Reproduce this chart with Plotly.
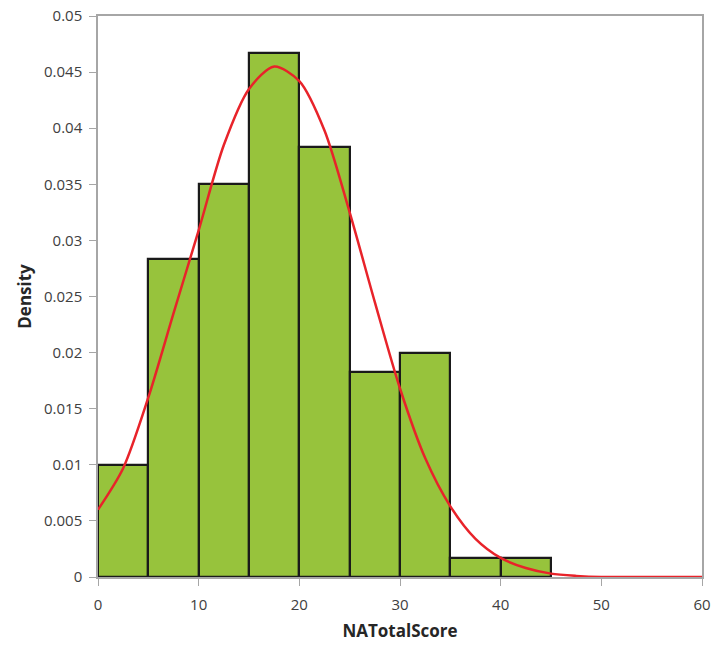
import plotly.graph_objects as go

# Histogram bins (NATotalScore) and their densities
bin_left = [0, 5, 10, 15, 20, 25, 30, 35, 40]
bin_width = 5
density = [0.0100, 0.0283, 0.0350, 0.0467, 0.0383, 0.0183, 0.0200, 0.00167, 0.00167]

# Fitted density curve
curve_x = [0, 2.5, 5, 7.5, 10, 12.5, 15, 17.5, 20, 22.5, 25, 27.5, 30, 32.5,
           35, 37.5, 40, 42.5, 45, 47.5, 50, 55, 60]
curve_y = [0.0060, 0.0097, 0.0160, 0.0235, 0.0309, 0.0385, 0.0435, 0.0455, 0.0442,
           0.0398, 0.0325, 0.0245, 0.0168, 0.0106, 0.0063, 0.0034, 0.0017, 0.0008,
           0.0003, 0.0001, 0.0, 0.0, 0.0]

x_ticks = [0, 10, 20, 30, 40, 50, 60]
y_ticks = [0, 0.005, 0.01, 0.015, 0.02, 0.025, 0.03, 0.035, 0.04, 0.045, 0.05]
y_labels = ["0", "0.005", "0.01", "0.015", "0.02", "0.025", "0.03", "0.035", "0.04", "0.045", "0.05"]

fig = go.Figure()
fig.add_trace(go.Bar(
    x=[b + bin_width / 2 for b in bin_left],
    y=density,
    width=[bin_width] * len(bin_left),
    marker=dict(color="#97C33C", line=dict(color="#1a1a1a", width=2.2)),
    showlegend=False,
    hoverinfo="x+y",
))
fig.add_trace(go.Scatter(
    x=curve_x, y=curve_y, mode="lines",
    line=dict(color="#E8232A", width=2.5, shape="spline", smoothing=0.8),
    showlegend=False,
))

tick_font = dict(family="Open Sans, Liberation Sans, sans-serif", size=15, color="#404040")
title_font = dict(family="Open Sans, sans-serif", size=17, color="#262626")
fig.update_layout(
    width=713, height=648,
    margin=dict(l=98, r=11, t=16, b=71),
    paper_bgcolor="white", plot_bgcolor="white",
    bargap=0,
    font=tick_font,
)
fig.update_xaxes(
    range=[0, 60], tickvals=x_ticks, ticktext=[str(v) for v in x_ticks],
    showgrid=False, zeroline=False, automargin=False,
    showline=True, linecolor="#A6A6A6", linewidth=1.5, mirror=True,
    ticks="outside", ticklen=7, tickcolor="#A6A6A6", ticklabelstandoff=6,
    tickfont=tick_font,
    title=dict(text="<b>NATotalScore</b>", font=title_font, standoff=12),
)
fig.update_yaxes(
    range=[0, 0.05], tickvals=y_ticks, ticktext=y_labels,
    showgrid=False, zeroline=False, automargin=False,
    showline=True, linecolor="#A6A6A6", linewidth=1.5, mirror=True,
    ticks="outside", ticklen=7, tickcolor="#A6A6A6", ticklabelstandoff=4,
    tickfont=tick_font,
    title=dict(text="<b>Density</b>", font=title_font, standoff=8),
)

fig.write_html("out.html")
